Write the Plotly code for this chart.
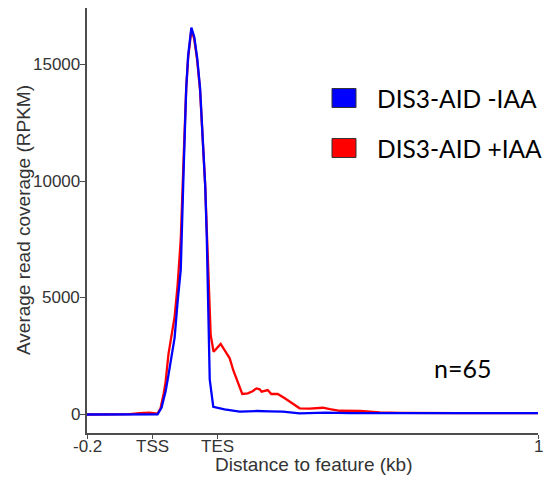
import plotly.graph_objects as go

# x positions: 0 = -0.2 kb, 0.2 = TSS, 0.4 = TES, 1.4 = +1 kb (scaled metagene axis)
blue_x = [0.000, 0.163, 0.219, 0.2315, 0.244, 0.253, 0.263, 0.272, 0.281, 0.291, 0.300,
          0.308, 0.314, 0.324, 0.333, 0.342, 0.351, 0.359, 0.367, 0.372, 0.376, 0.381,
          0.392, 0.406, 0.427, 0.474, 0.527, 0.567, 0.608, 0.660, 0.741, 0.816, 0.971,
          1.126, 1.282, 1.400]
blue_y = [0, 0, 10, 300, 1000, 1700, 2600, 3300, 4800, 6200, 10500,
          14000, 15400, 16600, 16200, 15300, 14000, 12000, 9800, 7500, 5000, 1500,
          330, 280, 220, 120, 150, 130, 120, 51, 77, 60, 55,
          55, 55, 55]

red_x = [0.000, 0.132, 0.163, 0.194, 0.219, 0.228, 0.238, 0.244, 0.253, 0.263, 0.272,
         0.281, 0.291, 0.300, 0.308, 0.314, 0.324, 0.333, 0.342, 0.351, 0.359, 0.367,
         0.373, 0.379, 0.384, 0.393, 0.415, 0.430, 0.443, 0.454, 0.468, 0.482, 0.499,
         0.514, 0.526, 0.536, 0.542, 0.561, 0.572, 0.592, 0.614, 0.639, 0.660, 0.691,
         0.713, 0.732, 0.754, 0.785, 0.847, 0.909, 0.971, 1.033, 1.083, 1.111, 1.158,
         1.282, 1.400]
red_y = [0, 20, 60, 80, 40, 250, 900, 1400, 2600, 3500, 4200,
         5500, 7500, 11000, 14000, 15300, 16500, 16100, 15200, 13900, 12000, 9800,
         7500, 5000, 3400, 2690, 3030, 2700, 2410, 1900, 1350, 880, 910,
         1000, 1120, 1080, 980, 1050, 880, 880, 700, 480, 266, 250,
         266, 290, 230, 160, 150, 90, 70, 60, 77, 80, 60,
         55, 55]

x_tickvals = [0, 0.204, 0.406, 1.4]
x_ticktext = ["-0.2", "TSS", "TES", "1"]
y_tickvals = [0, 5000, 10000, 15000]
y_ticktext = ["0", "5000", "10000", "15000"]

x_title = "Distance to feature (kb)"
y_title = "Average read coverage (RPKM)"
series_names = ["DIS3-AID -IAA", "DIS3-AID +IAA"]
series_colors = ["#0000FF", "#FF0000"]
note_text = "n=65"

W, H = 552, 477
L, R, T, B = 87, 14, 8, 44
pw, ph = W - L - R, H - T - B


def px(xp):
    return (xp - L) / pw


def py(yp):
    return (H - B - yp) / ph


fig = go.Figure()
fig.add_trace(go.Scatter(x=red_x, y=red_y, mode="lines", name=series_names[1],
                         line=dict(color=series_colors[1], width=2.3), showlegend=False))
fig.add_trace(go.Scatter(x=blue_x, y=blue_y, mode="lines", name=series_names[0],
                         line=dict(color=series_colors[0], width=2.3), showlegend=False))

axis_col = "#4d4d4d"
text_col = "#333333"
tick_font = dict(family="Liberation Sans, Arial, sans-serif", size=17, color=text_col)

fig.update_layout(
    width=W, height=H,
    margin=dict(l=L, r=R, t=T, b=B),
    paper_bgcolor="white", plot_bgcolor="white",
    font=dict(family="Liberation Sans, Arial, sans-serif", size=17, color=text_col),
    xaxis=dict(range=[0, 1.4], tickvals=x_tickvals, showticklabels=False,
               showgrid=False, zeroline=False, showline=True, linecolor=axis_col,
               linewidth=1.5, ticks="outside", ticklen=4, tickcolor=axis_col, tickwidth=1),
    yaxis=dict(range=[-794, 17440], tickvals=y_tickvals, showticklabels=False,
               showgrid=False, zeroline=False, showline=True, linecolor=axis_col,
               linewidth=1.5, ticks="outside", ticklen=5, tickcolor=axis_col, tickwidth=1),
)

# tick labels placed at the axis tick values
for v, t in zip(x_tickvals, x_ticktext):
    fig.add_annotation(xref="x", yref="paper", x=v, y=py(446), text=t, showarrow=False,
                       xanchor="center", yanchor="middle", font=tick_font)
for v, t in zip(y_tickvals, y_ticktext):
    fig.add_annotation(xref="paper", yref="y", x=px(81.5), y=v, text=t, showarrow=False,
                       xanchor="right", yanchor="middle", font=tick_font)

# axis titles
fig.add_annotation(xref="paper", yref="paper", x=px(313), y=py(465), text=x_title,
                   showarrow=False, xanchor="center", yanchor="middle",
                   font=dict(size=19, color=text_col))
fig.add_annotation(xref="paper", yref="paper", x=px(24), y=py(220), text=y_title,
                   showarrow=False, xanchor="center", yanchor="middle", textangle=-90,
                   font=dict(size=19, color=text_col))

# manual legend (filled boxes with dark border)
legend_rows = [98, 148]
for name, col, yc in zip(series_names, series_colors, legend_rows):
    fig.add_shape(type="rect", xref="paper", yref="paper",
                  x0=px(332), x1=px(356), y0=py(yc + 9.5), y1=py(yc - 9.5),
                  fillcolor=col, line=dict(color="#333333", width=1))
    fig.add_annotation(xref="paper", yref="paper", x=px(375), y=py(yc),
                       text=name, showarrow=False, xanchor="left", yanchor="middle",
                       font=dict(family="Lato, Open Sans, sans-serif", size=24.5, color="black"))

fig.add_annotation(xref="paper", yref="paper", x=px(432), y=py(368), text=note_text,
                   showarrow=False, xanchor="left", yanchor="middle",
                   font=dict(family="Lato, Open Sans, sans-serif", size=25, color="black"))

fig.write_html("out.html")
